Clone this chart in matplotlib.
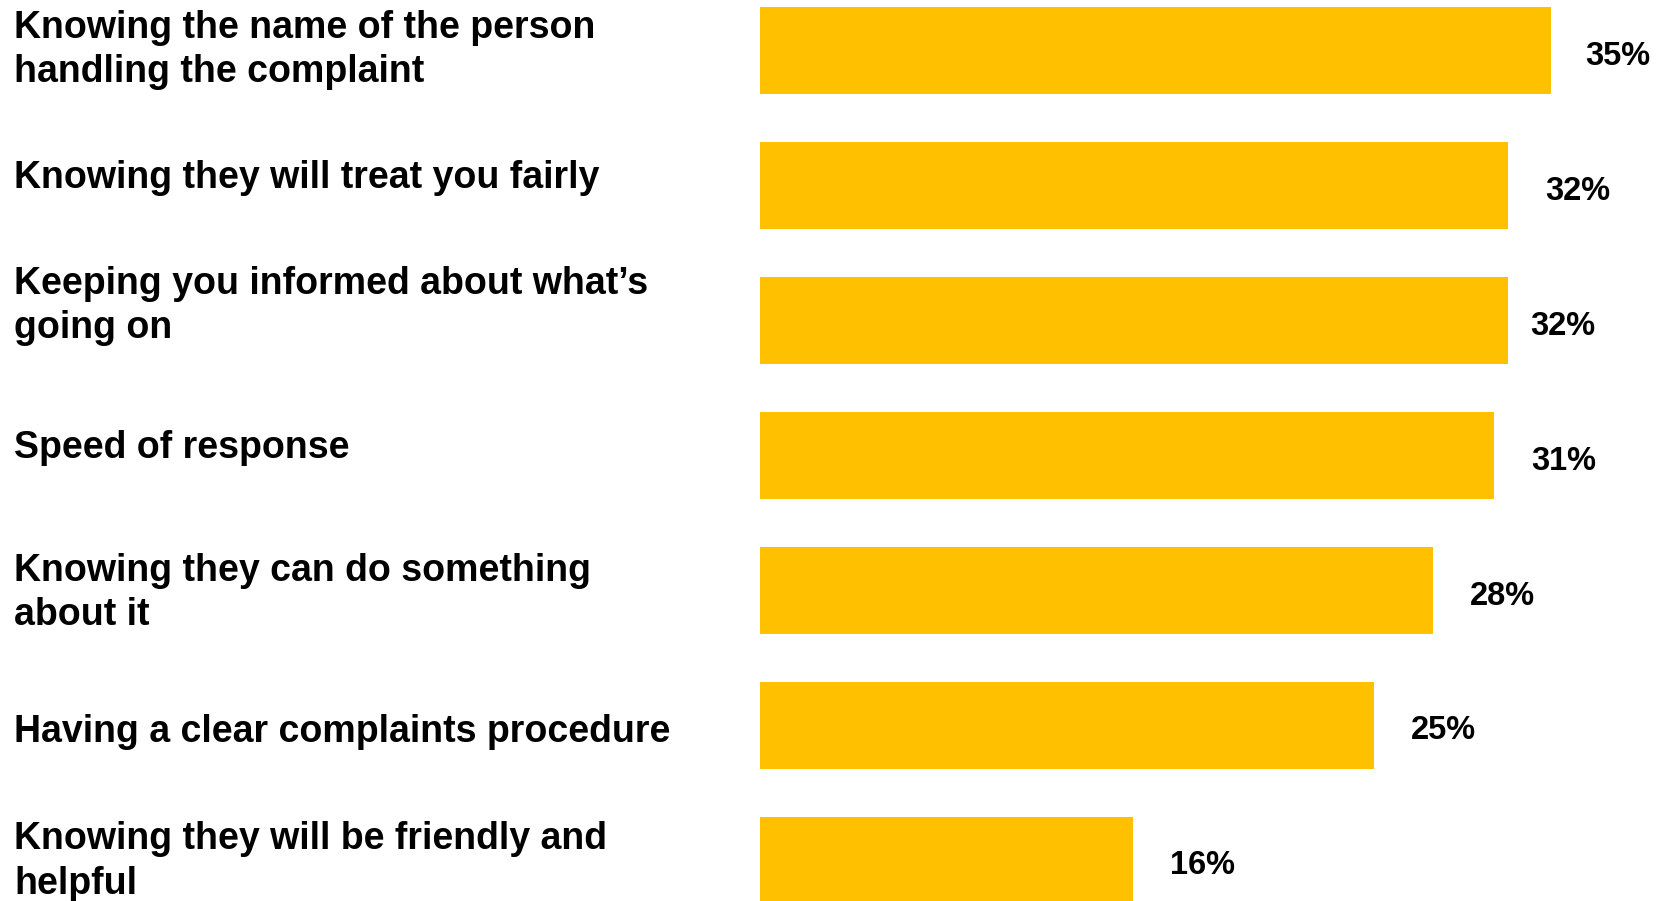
import matplotlib
matplotlib.use("Agg")
import matplotlib.pyplot as plt
import matplotlib.transforms as mtransforms

# ---- data ----
categories = [
    "Knowing the name of the person\nhandling the complaint",
    "Knowing they will treat you fairly",
    "Keeping you informed about what\u2019s\ngoing on",
    "Speed of response",
    "Knowing they can do something\nabout it",
    "Having a clear complaints procedure",
    "Knowing they will be friendly and\nhelpful",
]
bar_values = [33.5, 31.7, 31.7, 31.1, 28.5, 26.0, 15.8]  # bar lengths as drawn
value_labels = ["35%", "32%", "32%", "31%", "28%", "25%", "16%"]

# ---- layout ----
W, H, DPI = 1662, 901, 100
bar_color = "#FFC000"
label_gap_px = [35, 37, 22, 37, 37, 37, 37]
cat_baseline_px = [-13, 2, -27, 2, -10, 17, -11]  # first-line baseline offset from bar centre (down +)
line_step_px = 44.5

plt.rcParams["font.family"] = ["Liberation Sans", "DejaVu Sans"]

fig = plt.figure(figsize=(W / DPI, H / DPI), dpi=DPI)
fig.patch.set_facecolor("white")

ax_left = 760 / W
ax = fig.add_axes([ax_left, 0, 1 - ax_left, 1])
px_per_unit = 23.6
ax.set_xlim(0, (W - 760) / px_per_unit)
pitch = 134.9
c0 = 50.9
ax.set_ylim((H - c0) / pitch, -c0 / pitch)

ypos = list(range(len(categories)))
ax.barh(ypos, bar_values, height=87 / pitch, color=bar_color, left=0)
ax.axis("off")

for i, (v, lab) in enumerate(zip(bar_values, value_labels)):
    ax.annotate(lab, xy=(v, i), xytext=(label_gap_px[i], -14),
                textcoords="offset pixels", ha="left", va="baseline",
                fontsize=23.5, fontweight="bold", color="black")

trans = mtransforms.blended_transform_factory(fig.transFigure, ax.transData)
for i, cat in enumerate(categories):
    for k, line in enumerate(cat.split("\n")):
        ax.annotate(line, xy=(14 / W, i), xycoords=trans,
                    xytext=(0, -(cat_baseline_px[i] + k * line_step_px)),
                    textcoords="offset pixels",
                    ha="left", va="baseline", fontsize=27, fontweight="bold",
                    color="black", annotation_clip=False)

fig.savefig("out.png", dpi=DPI, facecolor="white")
